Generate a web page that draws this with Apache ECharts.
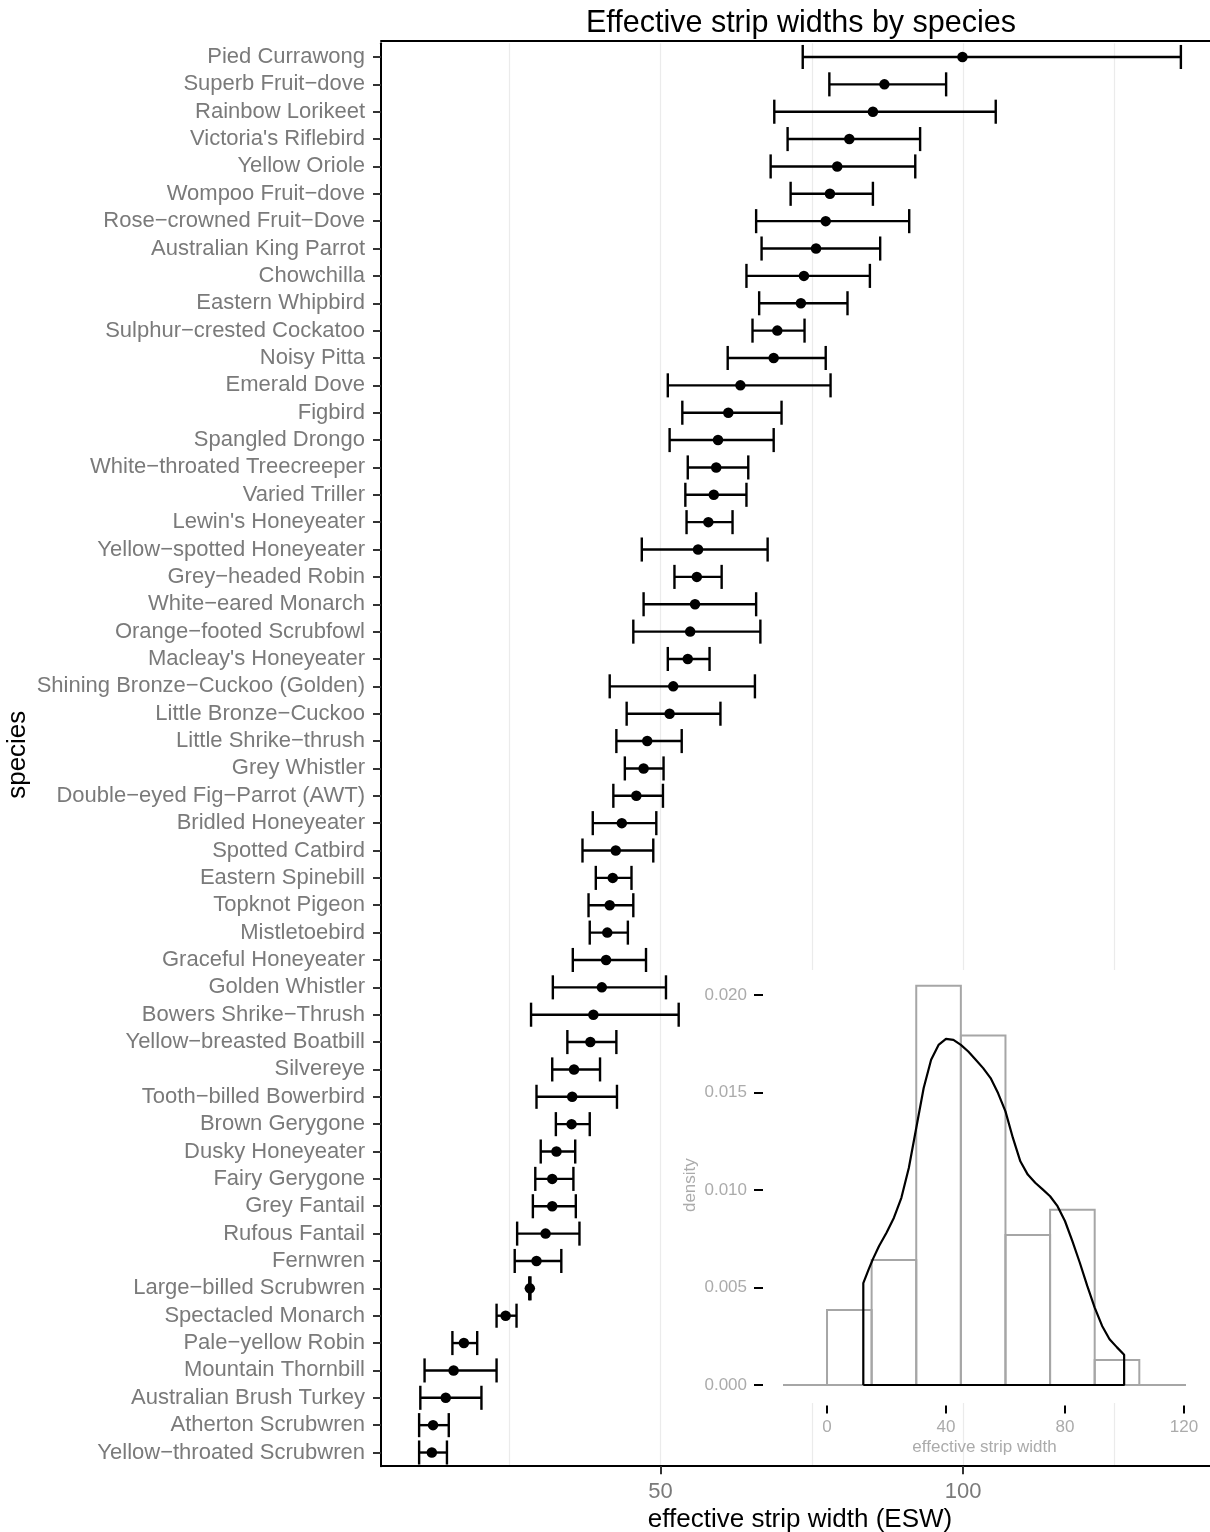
<!DOCTYPE html>
<html>
<head>
<meta charset="utf-8">
<script src="https://cdn.jsdelivr.net/npm/echarts@6/dist/echarts.min.js"></script>
<style>html,body{margin:0;padding:0;background:#fff}#c{width:1210px;height:1532px}</style>
</head>
<body>
<div id="c"></div>
<script>
const species = ["Pied Currawong","Superb Fruit−dove","Rainbow Lorikeet","Victoria's Riflebird","Yellow Oriole","Wompoo Fruit−dove","Rose−crowned Fruit−Dove","Australian King Parrot","Chowchilla","Eastern Whipbird","Sulphur−crested Cockatoo","Noisy Pitta","Emerald Dove","Figbird","Spangled Drongo","White−throated Treecreeper","Varied Triller","Lewin's Honeyeater","Yellow−spotted Honeyeater","Grey−headed Robin","White−eared Monarch","Orange−footed Scrubfowl","Macleay's Honeyeater","Shining Bronze−Cuckoo (Golden)","Little Bronze−Cuckoo","Little Shrike−thrush","Grey Whistler","Double−eyed Fig−Parrot (AWT)","Bridled Honeyeater","Spotted Catbird","Eastern Spinebill","Topknot Pigeon","Mistletoebird","Graceful Honeyeater","Golden Whistler","Bowers Shrike−Thrush","Yellow−breasted Boatbill","Silvereye","Tooth−billed Bowerbird","Brown Gerygone","Dusky Honeyeater","Fairy Gerygone","Grey Fantail","Rufous Fantail","Fernwren","Large−billed Scrubwren","Spectacled Monarch","Pale−yellow Robin","Mountain Thornbill","Australian Brush Turkey","Atherton Scrubwren","Yellow−throated Scrubwren"];
const esw   = [99.9,87.0,85.1,81.2,79.2,78.0,77.3,75.7,73.7,73.2,69.3,68.7,63.2,61.2,59.5,59.2,58.8,57.9,56.2,56.0,55.7,54.9,54.5,52.1,51.5,47.8,47.2,46.0,43.6,42.6,42.1,41.6,41.2,41.0,40.3,38.9,38.4,35.7,35.4,35.3,32.8,32.1,32.1,31.0,29.5,28.4,24.4,17.5,15.8,14.5,12.4,12.2];
const lower = [73.5,77.9,68.8,71.0,68.2,71.5,65.8,66.7,64.2,66.3,65.2,61.1,51.2,53.6,51.5,54.5,54.1,54.3,46.9,52.3,47.2,45.5,51.2,41.6,44.4,42.7,44.1,42.2,38.8,37.1,39.3,38.1,38.3,35.5,32.2,28.6,34.6,32.1,29.5,32.7,30.2,29.3,28.9,26.3,25.9,28.3,22.9,15.6,11.0,10.3,10.1,10.1];
const upper = [136.0,97.2,105.4,92.9,92.1,85.1,91.1,86.3,84.6,80.9,73.8,77.3,78.1,70.0,68.7,64.5,64.2,61.9,67.7,60.1,65.8,66.5,58.1,65.6,59.9,53.5,50.5,50.4,49.3,48.8,45.2,45.5,44.6,47.6,50.9,53.0,42.7,40.0,42.8,38.3,35.9,35.6,36.0,36.6,33.6,28.5,26.2,19.7,22.9,20.4,15.0,14.7];
const xTicks = [50, 100];
const xGrid = [25, 50, 75, 100, 125];

const histBinStart = [0, 15, 30, 45, 60, 75, 90];
const histBinEnd   = [15, 30, 45, 60, 75, 90, 105];
const histDensity  = [0.00385, 0.00641, 0.02048, 0.01792, 0.00769, 0.00899, 0.00128];
const densX = [12.2,12.2,14.0,15.5,17.5,20.0,22.5,25.0,27.5,30.0,32.5,35.0,37.5,40.0,42.5,45.0,47.5,50.0,52.5,55.0,57.5,60.0,62.5,65.0,67.5,70.0,72.5,75.0,77.5,80.0,82.5,85.0,87.5,90.0,92.5,95.0,97.5,99.9,99.9,12.2];
const densY = [0,0.00522,0.00593,0.00648,0.00713,0.00781,0.00858,0.0096,0.01113,0.01318,0.01523,0.01668,0.01744,0.01775,0.0177,0.01744,0.0171,0.01668,0.01625,0.01574,0.01497,0.01403,0.01267,0.01147,0.01079,0.01037,0.01003,0.00968,0.00917,0.00841,0.00738,0.00627,0.00508,0.00397,0.00303,0.00235,0.00193,0.00155,0,0];
const insetXTicks = [0, 40, 80, 120];
const insetYTicks = [0, 0.005, 0.010, 0.015, 0.020];

const FONT = "'Liberation Sans', Arial, Helvetica, sans-serif";
const chart = echarts.init(document.getElementById('c'), null, {renderer: 'canvas'});

const option = {
  backgroundColor: '#fff',
  animation: false,
  title: {
    text: 'Effective strip widths by species',
    left: 796, top: 3, textAlign: 'center',
    textStyle: {fontFamily: FONT, fontSize: 30.5, fontWeight: 'normal', color: '#000'}
  },
  graphic: [{
    type: 'rect', z: 1, silent: true,
    shape: {x: 783, y: 970, width: 403, height: 433},
    style: {fill: '#fff'}
  }],
  grid: [
    {left: 381, top: 43.3, width: 838, height: 1422.9, show: false, containLabel: false, outerBoundsMode: 'none'},
    {left: 783, top: 965.75, width: 403, height: 438.75, show: false, containLabel: false, outerBoundsMode: 'none'}
  ],
  xAxis: [
    {
      type: 'value', gridIndex: 0, min: 3.8, max: 142.3, position: 'bottom',
      axisLine: {show: true, onZero: false, lineStyle: {color: '#000', width: 2}},
      axisTick: {show: true, customValues: xTicks, length: 8, lineStyle: {color: '#333', width: 2}},
      axisLabel: {show: true, customValues: xTicks, margin: 15, color: '#7a7a7a', fontSize: 22, fontFamily: FONT},
      splitLine: {show: false},
      name: 'effective strip width (ESW)', nameLocation: 'middle', nameGap: 41, nameMoveOverlap: false,
      nameTextStyle: {fontFamily: FONT, fontSize: 26, color: '#000'}
    },
    {
      type: 'value', gridIndex: 0, min: 3.8, max: 142.3, position: 'bottom',
      axisLine: {show: false, onZero: false}, axisLabel: {show: false},
      axisTick: {show: false, customValues: xGrid},
      splitLine: {show: true, lineStyle: {color: '#ebebeb', width: 1.2}}
    },
    {
      type: 'value', gridIndex: 0, min: 3.8, max: 142.3, position: 'top', offset: 2.3,
      axisLine: {show: true, onZero: false, lineStyle: {color: '#000', width: 2}},
      axisTick: {show: false}, axisLabel: {show: false}, splitLine: {show: false}
    },
    {
      type: 'value', gridIndex: 1, min: -14.8, max: 120.7, position: 'bottom', offset: 1, z: 2,
      axisLine: {show: false, onZero: false},
      axisTick: {show: true, customValues: insetXTicks, length: 8, lineStyle: {color: '#000', width: 2}},
      axisLabel: {show: true, customValues: insetXTicks, margin: 13, color: '#ababab', fontSize: 17, fontFamily: FONT},
      splitLine: {show: false},
      name: 'effective strip width', nameLocation: 'middle', nameGap: 33, nameMoveOverlap: false,
      nameTextStyle: {fontFamily: FONT, fontSize: 17, color: '#ababab'}
    }
  ],
  yAxis: [
    {
      type: 'category', gridIndex: 0, data: species, inverse: true,
      axisLine: {show: true, onZero: false, lineStyle: {color: '#000', width: 2}},
      axisTick: {show: true, alignWithLabel: true, length: 8, lineStyle: {color: '#333', width: 2}},
      axisLabel: {interval: 0, margin: 16, color: '#7a7a7a', fontSize: 22, fontFamily: FONT},
      splitLine: {show: false},
      name: 'species', nameLocation: 'middle', nameGap: 350, nameRotate: 90, nameMoveOverlap: false,
      nameTextStyle: {fontFamily: FONT, fontSize: 26, color: '#000'}
    },
    {
      type: 'value', gridIndex: 1, min: -0.001, max: 0.0215, offset: 20, z: 2,
      axisLine: {show: false, onZero: false},
      axisTick: {show: true, customValues: insetYTicks, length: 9, lineStyle: {color: '#000', width: 2}},
      axisLabel: {show: true, customValues: insetYTicks, margin: 16, color: '#ababab', fontSize: 17, fontFamily: FONT,
        formatter: v => v.toFixed(3)},
      splitLine: {show: false},
      name: 'density', nameLocation: 'middle', nameGap: 64, nameRotate: 90, nameMoveOverlap: false,
      nameTextStyle: {fontFamily: FONT, fontSize: 17, color: '#ababab'}
    }
  ],
  series: [
    {
      type: 'custom', name: 'ci', xAxisIndex: 0, yAxisIndex: 0, z: 3,
      data: species.map((s, i) => [lower[i], upper[i], i]),
      encode: {x: [0, 1], y: 2},
      renderItem: function (params, api) {
        const y = api.value(2);
        const p1 = api.coord([api.value(0), y]);
        const p2 = api.coord([api.value(1), y]);
        const h = api.size([0, 1])[1] * 0.44;
        const st = {stroke: '#000', lineWidth: 2.4};
        return {type: 'group', children: [
          {type: 'line', shape: {x1: p1[0], y1: p1[1], x2: p2[0], y2: p2[1]}, style: st},
          {type: 'line', shape: {x1: p1[0], y1: p1[1] - h, x2: p1[0], y2: p1[1] + h}, style: st},
          {type: 'line', shape: {x1: p2[0], y1: p2[1] - h, x2: p2[0], y2: p2[1] + h}, style: st}
        ]};
      }
    },
    {
      type: 'scatter', name: 'esw', xAxisIndex: 0, yAxisIndex: 0, z: 4,
      data: esw.map((v, i) => [v, i]),
      symbolSize: 10.5, itemStyle: {color: '#000', opacity: 1}
    },
    {
      type: 'custom', name: 'hist', xAxisIndex: 3, yAxisIndex: 1, z: 5,
      data: histBinStart.map((b, i) => [b, histBinEnd[i], histDensity[i]]),
      encode: {x: [0, 1], y: 2},
      renderItem: function (params, api) {
        const p0 = api.coord([api.value(0), 0]);
        const p1 = api.coord([api.value(1), api.value(2)]);
        return {type: 'rect', shape: {x: p0[0], y: p1[1], width: p1[0] - p0[0], height: p0[1] - p1[1]},
          style: {fill: 'none', stroke: '#a6a6a6', lineWidth: 2}};
      },
      markLine: {
        silent: true, symbol: 'none', label: {show: false},
        lineStyle: {color: '#a6a6a6', width: 2, type: 'solid'},
        data: [{yAxis: 0}]
      }
    },
    {
      type: 'line', name: 'density', xAxisIndex: 3, yAxisIndex: 1, z: 6,
      data: densX.map((x, i) => [x, densY[i]]),
      showSymbol: false, smooth: false,
      lineStyle: {color: '#000', width: 2.2}
    }
  ]
};
chart.setOption(option);
</script>
</body>
</html>
